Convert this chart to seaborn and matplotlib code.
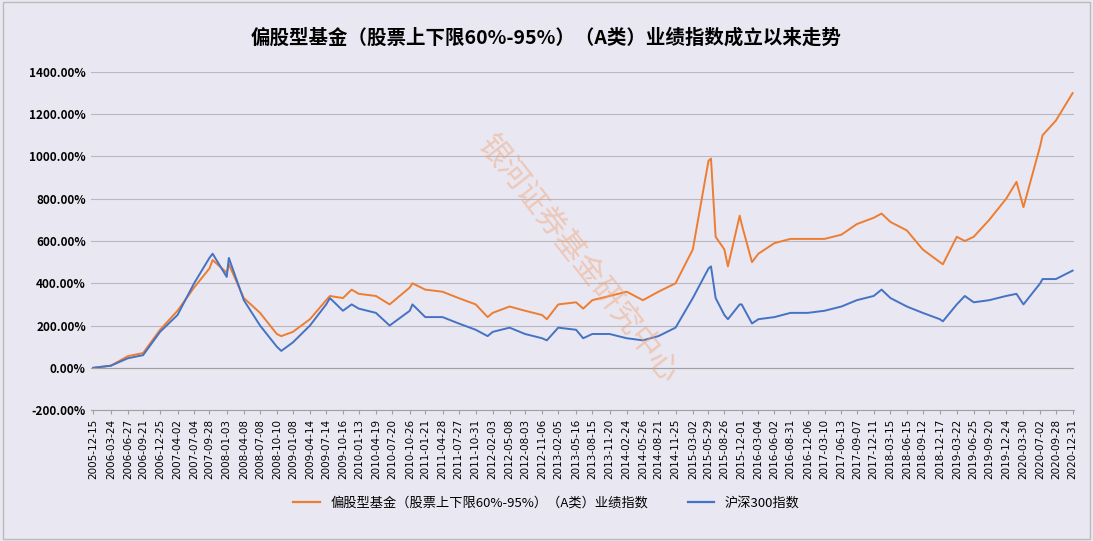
import numpy as np
import pandas as pd
import matplotlib
matplotlib.use("Agg")
import matplotlib.pyplot as plt
import seaborn as sns

plt.rcParams["font.family"] = ["Noto Sans CJK SC", "DejaVu Sans"]

tick_labels = ["2005-12-15","2006-03-24","2006-06-27","2006-09-21","2006-12-25","2007-04-02","2007-07-04","2007-09-28",
"2008-01-03","2008-04-08","2008-07-08","2008-10-10","2009-01-08","2009-04-14","2009-07-14","2009-10-16","2010-01-13",
"2010-04-19","2010-07-20","2010-10-26","2011-01-21","2011-04-28","2011-07-27","2011-10-31","2012-02-03","2012-05-08",
"2012-08-03","2012-11-06","2013-02-05","2013-05-16","2013-08-15","2013-11-20","2014-02-24","2014-05-26","2014-08-21",
"2014-11-25","2015-03-02","2015-05-29","2015-08-26","2015-12-01","2016-03-04","2016-06-02","2016-08-31","2016-12-06",
"2017-03-10","2017-06-13","2017-09-07","2017-12-11","2018-03-15","2018-06-15","2018-09-12","2018-12-17","2019-03-22",
"2019-06-25","2019-09-20","2019-12-24","2020-03-30","2020-07-02","2020-09-28","2020-12-31"]

dates = ["2005-12-15","2006-03-24","2006-06-27","2006-09-21","2006-12-25","2007-04-02","2007-07-04","2007-09-28","2007-10-16",
"2008-01-03","2008-01-15","2008-04-08","2008-07-08","2008-10-10","2008-11-04","2009-01-08","2009-04-14","2009-07-14","2009-08-04",
"2009-10-16","2009-12-04","2010-01-13","2010-04-19","2010-07-05","2010-10-26","2010-11-10","2011-01-21","2011-04-28","2011-07-27",
"2011-10-31","2012-01-06","2012-02-03","2012-05-08","2012-08-03","2012-11-06","2012-12-03","2013-02-05","2013-05-16","2013-06-25",
"2013-08-15","2013-11-20","2014-02-24","2014-05-26","2014-08-21","2014-11-25","2015-03-02","2015-05-29","2015-06-12",
"2015-07-08","2015-08-26","2015-09-15","2015-11-20","2015-12-01","2016-01-28","2016-03-04","2016-06-02","2016-08-31",
"2016-12-06","2017-03-10","2017-06-13","2017-09-07","2017-12-11","2018-01-24","2018-03-15","2018-06-15","2018-09-12",
"2018-12-17","2019-01-03","2019-03-22","2019-05-06","2019-06-25","2019-09-20","2019-12-24","2020-02-20","2020-03-30",
"2020-07-02","2020-07-15","2020-09-28","2020-12-31"]

fund = [0,10,55,70,180,270,380,470,510,450,490,330,260,160,150,170,230,320,340,
330,370,350,340,300,380,400,370,360,330,
300,240,260,290,270,250,230,300,310,280,
320,340,360,320,360,400,560,980,990,
620,560,480,720,680,500,540,590,610,
610,610,630,680,710,730,690,650,560,
500,490,620,600,620,700,800,880,760,
1050,1100,1170,1300]

hs300 = [0,10,45,60,170,250,400,520,540,430,520,320,200,100,80,120,200,300,330,
270,300,280,260,200,270,300,240,240,210,
180,150,170,190,160,140,130,190,180,140,
160,160,140,130,150,190,330,470,480,
330,250,230,300,300,210,230,240,260,
260,270,290,320,340,370,330,290,260,
230,220,300,340,310,320,340,350,300,
400,420,420,460]

fund_name = "偏股型基金（股票上下限60%-95%）（A类）业绩指数"
idx_name = "沪深300指数"
df = pd.DataFrame({"date": pd.to_datetime(dates), fund_name: fund, idx_name: hs300})
long = df.melt("date", var_name="series", value_name="value")

bg = "#E9E7F1"
fig = plt.figure(figsize=(10.93, 5.41), dpi=100, facecolor=bg)
ax = fig.add_axes([0.083, 0.242, 0.9, 0.625], facecolor=bg)
sns.lineplot(data=long, x="date", y="value", hue="series",
             palette=["#ED7D31", "#4472C4"], linewidth=1.4, ax=ax, legend=False)

ax.set_ylim(-200, 1400)
ax.set_yticks(range(-200, 1401, 200))
ax.set_yticklabels([f"{v:.2f}%" for v in range(-200, 1401, 200)], fontsize=8.5, fontweight="bold")
tk = pd.to_datetime(tick_labels)
ax.set_xticks(tk)
ax.set_xticklabels(tick_labels, rotation=90, fontsize=7.5, fontfamily="DejaVu Sans")
ax.set_xlim(pd.Timestamp("2005-12-01"), pd.Timestamp("2021-01-10"))
ax.grid(axis="y", color="#B8B8C0", linewidth=0.8)
ax.set_xlabel(""); ax.set_ylabel("")
for s in ["top", "right", "left"]:
    ax.spines[s].set_visible(False)
ax.spines["bottom"].set_color("#A0A0A0")
ax.tick_params(axis="y", length=0)
ax.tick_params(axis="x", length=3, color="#A0A0A0")
ax.axhline(0, color="#A0A0A0", linewidth=0.8)

fig.text(0.5, 0.93, "偏股型基金（股票上下限60%-95%）（A类）业绩指数成立以来走势",
         ha="center", va="center", fontsize=14, fontweight="bold")
fig.text(0.53, 0.52, "银河证券基金研究中心", rotation=-52, fontsize=22, color="#F2A070",
         alpha=0.45, ha="center", va="center")

from matplotlib.lines import Line2D
handles = [Line2D([], [], color="#ED7D31", lw=1.6), Line2D([], [], color="#4472C4", lw=1.6)]
fig.legend(handles, [fund_name, idx_name], loc="center", bbox_to_anchor=(0.5, 0.07),
           ncol=2, frameon=False, fontsize=9.5, columnspacing=3)

fig.patches.append(plt.Rectangle((0.003, 0.003), 0.994, 0.994, transform=fig.transFigure,
                                 fill=False, edgecolor="#BBBBBB", lw=1))
fig.savefig("out.png", dpi=100, facecolor=bg)
